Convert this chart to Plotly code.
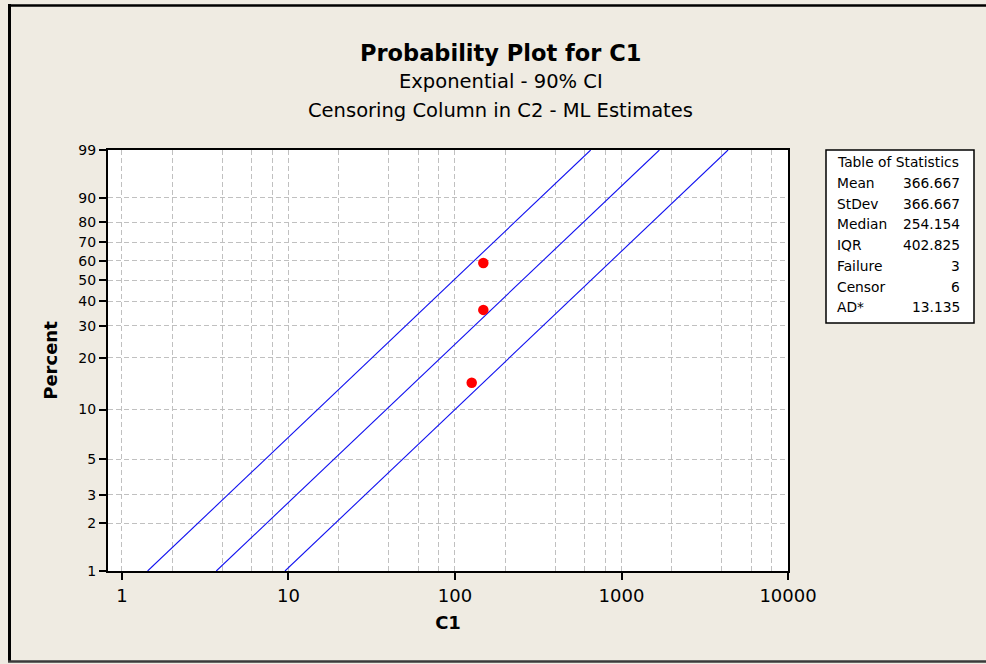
import numpy as np
import plotly.graph_objects as go

# ---------------- data ----------------
c1_failures = [126, 148, 148]          # failure times (plotted points)
plot_percent = [14.4, 36.2, 58.9]      # plotting positions (%)
fit_mean = 366.667                     # ML estimate of the exponential mean
ci_mean_lower = 141.8                  # 90% CI bounds used for the band lines
ci_mean_upper = 947.8
line_percent = [1, 99]                 # lines run from 1% to 99%

y_tick_percent = [1, 2, 3, 5, 10, 20, 30, 40, 50, 60, 70, 80, 90, 99]
x_tick_vals = [1, 10, 100, 1000, 10000]
x_tick_text = ["1", "10", "100", "1000", "10000"]
x_grid_mult = [2, 4, 6, 8]
x_grid_decades = [1, 10, 100, 1000]

stat_header = "Table of Statistics"
stat_names = ["Mean", "StDev", "Median", "IQR", "Failure", "Censor", "AD*"]
stat_values = ["366.667", "366.667", "254.154", "402.825", "3", "6", "13.135"]

title_main = "Probability Plot for C1"
subtitle_1 = "Exponential - 90% CI"
subtitle_2 = "Censoring Column in C2 - ML Estimates"

# ---------------- helpers ----------------
def cum_hazard(p):
    return -np.log(1 - np.asarray(p, dtype=float) / 100.0)

W, H = 986, 664
L, R, T, B = 108, 788, 150, 571   # plot area in pixels

def px(x):
    return (x - L) / (R - L)

def py(y):
    return (B - y) / (B - T)

FONT = "DejaVu Sans"
BG = "#EFEBE2"
GRID = "#C0C0C0"

fig = go.Figure()

# fitted line and CI lines
for theta in [ci_mean_lower, fit_mean, ci_mean_upper]:
    yy = cum_hazard(line_percent)
    fig.add_trace(go.Scatter(
        x=theta * yy, y=yy, mode="lines",
        line=dict(color="#1010F0", width=1.1),
        hoverinfo="skip", showlegend=False))

# data points
fig.add_trace(go.Scatter(
    x=c1_failures, y=cum_hazard(plot_percent), mode="markers",
    marker=dict(color="#FF0000", size=10.5, line=dict(width=0)),
    showlegend=False))

x_minor = [m * d for d in x_grid_decades for m in x_grid_mult]

fig.update_xaxes(
    type="log", range=[np.log10(1) - 14 / 166.65, np.log10(10000)],
    tickmode="array", tickvals=x_tick_vals, ticktext=x_tick_text,
    ticks="outside", ticklen=7, tickwidth=1.5, tickcolor="black",
    tickfont=dict(family=FONT, size=18, color="black"),
    showline=True, linecolor="black", linewidth=2, mirror=True,
    showgrid=True, gridcolor=GRID, gridwidth=1, griddash="5px,3px",
    minor=dict(tickvals=x_minor, ticks="", showgrid=True, gridcolor=GRID,
               gridwidth=1, griddash="5px,3px"),
    zeroline=False,
    title=dict(text="<b>C1</b>", font=dict(family=FONT, size=18, color="black"),
               standoff=12),
)

yr = np.log10(cum_hazard([1, 99]))
fig.update_yaxes(
    type="log", range=[yr[0] - 1e-9, yr[1] + 1e-9],
    tickmode="array", tickvals=list(cum_hazard(y_tick_percent)),
    ticktext=[str(p) for p in y_tick_percent],
    ticks="outside", ticklen=7, tickwidth=1.5, tickcolor="black",
    tickfont=dict(family=FONT, size=14, color="black"),
    showline=True, linecolor="black", linewidth=2, mirror=True,
    showgrid=True, gridcolor=GRID, gridwidth=1, griddash="5px,3px",
    zeroline=False,
    title=dict(text="<b>Percent</b>", font=dict(family=FONT, size=18, color="black"),
               standoff=16),
)

annotations = []
cx = px(501)
annotations.append(dict(text="<b>" + title_main + "</b>", x=cx, y=py(53),
                        xref="paper", yref="paper", showarrow=False,
                        xanchor="center", yanchor="middle",
                        font=dict(family=FONT, size=22.5, color="black")))
annotations.append(dict(text=subtitle_1, x=cx, y=py(82), xref="paper", yref="paper",
                        showarrow=False, xanchor="center", yanchor="middle",
                        font=dict(family=FONT, size=19.5, color="black")))
annotations.append(dict(text=subtitle_2, x=cx, y=py(111), xref="paper", yref="paper",
                        showarrow=False, xanchor="center", yanchor="middle",
                        font=dict(family=FONT, size=19.5, color="black")))

# statistics table
tfont = dict(family=FONT, size=13.8, color="black")
annotations.append(dict(text=stat_header, x=px(835), y=py(162), xref="paper",
                        yref="paper", showarrow=False, xanchor="left",
                        yanchor="middle", font=tfont))
for i, (n, v) in enumerate(zip(stat_names, stat_values)):
    yy = py(183 + i * 20.7)
    annotations.append(dict(text=n, x=px(835), y=yy, xref="paper", yref="paper",
                            showarrow=False, xanchor="left", yanchor="middle",
                            font=tfont))
    annotations.append(dict(text=v, x=px(962), y=yy, xref="paper", yref="paper",
                            showarrow=False, xanchor="right", yanchor="middle",
                            font=tfont))

shapes = [
    dict(type="rect", xref="paper", yref="paper", x0=px(826), x1=px(974),
         y0=py(150), y1=py(323), fillcolor="white",
         line=dict(color="black", width=1.5), layer="below"),
    # outer frame (left, top, bottom)
    dict(type="line", xref="paper", yref="paper", x0=px(9.5), x1=px(9.5),
         y0=py(4), y1=py(662), line=dict(color="black", width=3)),
    dict(type="line", xref="paper", yref="paper", x0=px(8), x1=px(990),
         y0=py(5.5), y1=py(5.5), line=dict(color="black", width=2.5)),
    dict(type="line", xref="paper", yref="paper", x0=px(8), x1=px(990),
         y0=py(661.5), y1=py(661.5), line=dict(color="#3A3A3A", width=2.5)),
]

fig.update_layout(
    width=W, height=H, autosize=False,
    margin=dict(l=L, r=W - R, t=T, b=H - B, pad=0),
    paper_bgcolor=BG, plot_bgcolor="white",
    font=dict(family=FONT, color="black"),
    showlegend=False,
    annotations=annotations, shapes=shapes,
)

fig.write_html(
    "out.html",
    config={"displayModeBar": False},
    post_script="document.body.style.margin='0';"
                "document.body.style.padding='0';"
                "document.body.style.background='" + BG + "';",
)
